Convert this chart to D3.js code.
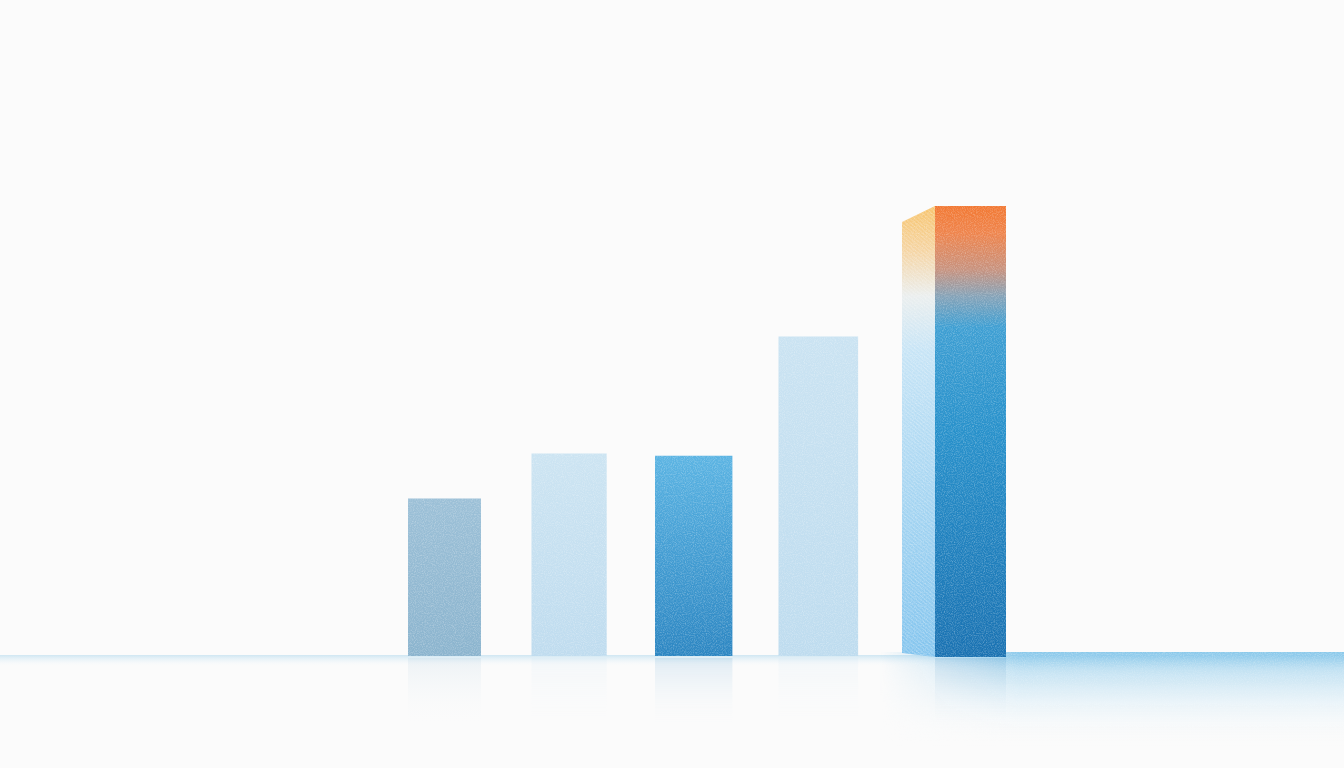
<!DOCTYPE html>
<html>
<head>
<meta charset="utf-8">
<script src="https://cdn.jsdelivr.net/npm/d3@7"></script>
<style>
  html, body { margin: 0; padding: 0; background: #fbfbfb; overflow: hidden; }
  svg { display: block; }
</style>
</head>
<body>
<div id="chart"></div>
<script>
// values (no axes or labels are shown)
const categories = ["Q1", "Q2", "Q3", "Q4", "Q5"];
const values = [35, 45, 44.5, 71, 100];

// fill gradients per bar, top colour -> bottom colour
const barTops = ["#9cc0d7", "#cce4f2", "#5bb4e3", "#cae3f2"];
const barBottoms = ["#8bb4ce", "#bfdcef", "#2c86c2", "#bedcef"];

const W = 1344, H = 768;
const base = 656;

const svg = d3.select("#chart").append("svg")
  .attr("width", W)
  .attr("height", H);

const defs = svg.append("defs");

const x = d3.scaleLinear().domain([0, categories.length - 1]).range([408, 902]);
const y = d3.scaleLinear().domain([0, 100]).range([base, 206]);

// slight perspective: bars widen to the right
const barWidth = i => 73 + i * 2.2;
const depth = 33, frontW = 71;

function vGrad(id, stops, x1, y1, x2, y2) {
  const g = defs.append("linearGradient").attr("id", id)
    .attr("x1", x1 || 0).attr("y1", y1 || 0).attr("x2", x2 || 0).attr("y2", y2 === undefined ? 1 : y2);
  stops.forEach(s => g.append("stop").attr("offset", s[0]).attr("stop-color", s[1]).attr("stop-opacity", s[2] === undefined ? 1 : s[2]));
  return `url(#${id})`;
}

// grain filter
const grain = defs.append("filter").attr("id", "grain")
  .attr("x", 0).attr("y", 0).attr("width", 1).attr("height", 1)
  .attr("color-interpolation-filters", "sRGB");
grain.append("feTurbulence").attr("type", "fractalNoise").attr("baseFrequency", 0.9).attr("numOctaves", 2).attr("seed", 3).attr("result", "noise");
grain.append("feColorMatrix").attr("in", "noise").attr("type", "matrix")
  .attr("values", "0 0 0 0 1  0 0 0 0 1  0 0 0 0 1  0 0 0 -0.6 0.36").attr("result", "speck");
grain.append("feComposite").attr("in", "speck").attr("in2", "SourceGraphic").attr("operator", "in").attr("result", "speckIn");
grain.append("feMerge").call(m => {
  m.append("feMergeNode").attr("in", "SourceGraphic");
  m.append("feMergeNode").attr("in", "speckIn");
});

// hatch for side face
const hatch = defs.append("pattern").attr("id", "hatch")
  .attr("width", 3).attr("height", 3)
  .attr("patternUnits", "userSpaceOnUse")
  .attr("patternTransform", "rotate(-50)");
hatch.append("line").attr("x1", 0).attr("y1", 0).attr("x2", 0).attr("y2", 3)
  .attr("stroke", "#ffffff").attr("stroke-width", 0.9).attr("stroke-opacity", 0.4);

// background
svg.append("rect").attr("width", W).attr("height", H).attr("fill", "#fbfbfb");

// floor
const floor = svg.append("g");
floor.append("rect")
  .attr("x", 0).attr("y", base - 1).attr("width", W).attr("height", 12)
  .attr("fill", vGrad("floorThin", [[0, "#a3d2ea", 0.5], [1, "#ffffff", 0]]));

const fadeH = vGrad("floorFadeH", [[0, "#fff", 0], [0.3, "#fff", 1], [1, "#fff", 1]], 0, 0, 1, 0);
defs.append("mask").attr("id", "floorMask")
  .append("rect").attr("x", 880).attr("y", base - 6).attr("width", W - 880).attr("height", 110)
  .attr("fill", fadeH);
floor.append("rect")
  .attr("x", 880).attr("y", base - 4).attr("width", W - 880).attr("height", 95)
  .attr("fill", vGrad("floorBand", [[0, "#7cc2e8", 0.9], [0.2, "#a6d5ee", 0.65], [0.55, "#d3eaf6", 0.4], [1, "#ffffff", 0]]))
  .attr("mask", "url(#floorMask)")
  .attr("filter", "url(#grain)");

// baseline
floor.append("line")
  .attr("x1", 5).attr("x2", W).attr("y1", base - 1).attr("y2", base - 1)
  .attr("stroke", vGrad("baseLine", [[0, "#8cc6e2", 0.2], [0.08, "#8cc6e2", 0.9], [1, "#7fc0e4", 1]], 0, 0, 1, 0))
  .attr("stroke-width", 2);

// reflections
const refl = svg.append("g").attr("opacity", 0.13);
values.forEach((v, i) => {
  const bx = i < 4 ? x(i) : x(i) + depth;
  const bw = i < 4 ? barWidth(i) : frontW;
  refl.append("rect")
    .attr("x", bx).attr("y", base + 2).attr("width", bw).attr("height", 70)
    .attr("fill", vGrad("refl" + i, [[0, i < 4 ? barBottoms[i] : "#1f78b6", 1], [1, "#ffffff", 0]]));
});

// plain bars
const bars = svg.append("g").attr("filter", "url(#grain)");
values.slice(0, 4).forEach((v, i) => {
  bars.append("rect")
    .attr("x", x(i))
    .attr("y", y(v))
    .attr("width", barWidth(i))
    .attr("height", base - y(v))
    .attr("fill", vGrad("bar" + i, [[0, barTops[i]], [1, barBottoms[i]]]));
});

// highlighted 3D bar
const last = values.length - 1;
const lx = x(last), ly = y(values[last]);
const sideFill = vGrad("side", [
  [0, "#f7c36a"], [0.1, "#f5d4a2"], [0.2, "#eaeeee"], [0.32, "#c6e4f6"], [0.7, "#9fd2f1"], [1, "#82c4ee"]
]);
const side = d3.line()([[lx, ly + 16], [lx + depth, ly], [lx + depth, base + 1], [lx, base - 3]]) + "Z";
bars.append("path").attr("d", side).attr("fill", sideFill);
svg.append("path").attr("d", side).attr("fill", "url(#hatch)");

bars.append("rect")
  .attr("x", lx + depth)
  .attr("y", ly)
  .attr("width", frontW)
  .attr("height", base + 1 - ly)
  .attr("fill", vGrad("front", [
    [0, "#f27832"], [0.06, "#ef844c"], [0.14, "#c8927e"], [0.2, "#86a3b8"],
    [0.27, "#3e9fd3"], [0.5, "#2891cb"], [1, "#1a72b2"]
  ]));
</script>
</body>
</html>
